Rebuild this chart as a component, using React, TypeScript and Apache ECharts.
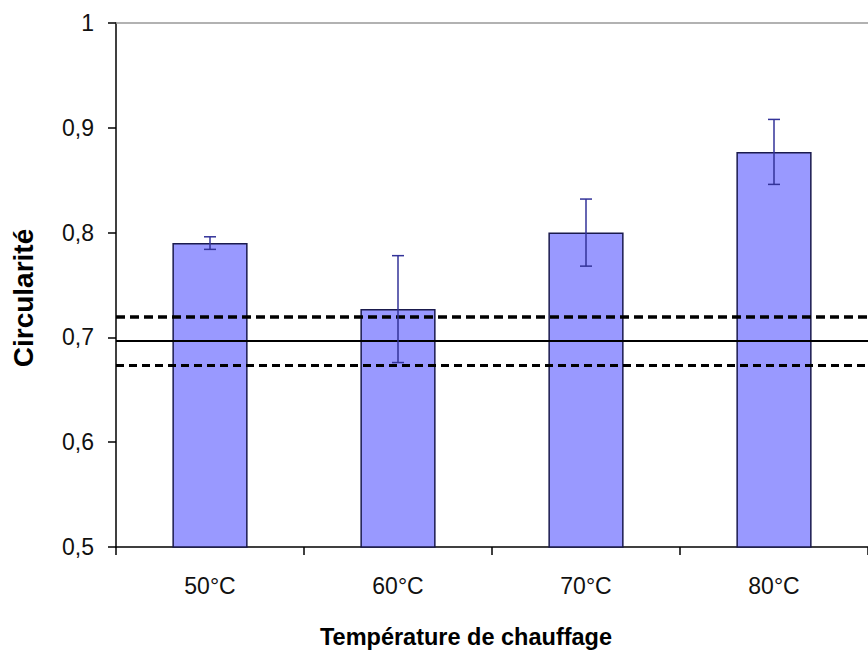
import React, { useEffect, useRef } from "react";
import * as echarts from "echarts";

const categories = ["50°C", "60°C", "70°C", "80°C"];
const values = [0.79, 0.727, 0.8, 0.877];
const errors = [0.006, 0.051, 0.032, 0.031];
const refLines = { upper: 0.7195, mean: 0.6965, lower: 0.673 };
const yTicks = { min: 0.5, max: 1, interval: 0.1 };

export default function App() {
  const ref = useRef<HTMLDivElement>(null);
  useEffect(() => {
    if (!ref.current) return;
    const chart = echarts.init(ref.current, null, { renderer: "svg" });
    const font = "'Liberation Sans', Arial, sans-serif";
    chart.setOption({
      animation: false,
      grid: { left: 116, right: 0, top: 23, bottom: 106, outerBoundsMode: "none", containLabel: false },
      xAxis: [
        {
          type: "category",
          data: categories,
          axisLine: { lineStyle: { color: "#000", width: 1.5 } },
          axisTick: { show: true, length: 8, lineStyle: { color: "#000", width: 1.5 } },
          axisLabel: { color: "#111", fontFamily: font, fontSize: 23, margin: 27 },
          name: "Température de chauffage",
          nameLocation: "middle",
          nameGap: 78,
          nameTextStyle: {
            color: "#000",
            fontFamily: font,
            fontSize: 23.5,
            fontWeight: "bold",
            padding: [0, 52, 0, 0],
          },
        },
        {
          type: "category",
          position: "top",
          data: categories,
          axisLine: { lineStyle: { color: "#999", width: 1.5 } },
          axisTick: { show: false },
          axisLabel: { show: false },
        },
      ],
      yAxis: {
        type: "value",
        min: yTicks.min,
        max: yTicks.max,
        interval: yTicks.interval,
        axisLine: { show: true, lineStyle: { color: "#000", width: 1.5 } },
        axisTick: { show: true, length: 8, lineStyle: { color: "#000", width: 1.5 } },
        splitLine: { show: false },
        axisLabel: {
          color: "#111",
          fontFamily: font,
          fontSize: 23,
          margin: 22,
          formatter: (v: number) => (Math.round(v * 10) / 10).toString().replace(".", ","),
        },
        name: "Circularité",
        nameLocation: "middle",
        nameGap: 79,
        nameTextStyle: {
          color: "#000",
          fontFamily: font,
          fontSize: 28,
          fontWeight: "bold",
          padding: [0, 26, 0, 0],
        },
      },
      series: [
        {
          type: "bar",
          data: values,
          barWidth: "40%",
          itemStyle: { color: "#9999ff", borderColor: "#1a1a4d", borderWidth: 1.5 },
          markLine: {
            silent: true,
            symbol: "none",
            precision: 4,
            label: { show: false },
            data: [
              { yAxis: refLines.upper, lineStyle: { color: "#000", width: 3.5, type: [9, 5] } },
              { yAxis: refLines.mean, lineStyle: { color: "#000", width: 2, type: "solid" } },
              { yAxis: refLines.lower, lineStyle: { color: "#000", width: 3, type: [8, 5] } },
            ],
          },
        },
        {
          type: "custom",
          data: values.map((v, i) => [i, v - errors[i], v + errors[i]]),
          z: 5,
          renderItem: (params: any, api: any) => {
            const x = api.value(0);
            const lo = api.coord([x, api.value(1)]);
            const hi = api.coord([x, api.value(2)]);
            const hw = 6;
            const style = { stroke: "#333399", lineWidth: 1.5 };
            return {
              type: "group",
              children: [
                { type: "line", shape: { x1: lo[0], y1: lo[1], x2: hi[0], y2: hi[1] }, style },
                { type: "line", shape: { x1: lo[0] - hw, y1: lo[1], x2: lo[0] + hw, y2: lo[1] }, style },
                { type: "line", shape: { x1: hi[0] - hw, y1: hi[1], x2: hi[0] + hw, y2: hi[1] }, style },
              ],
            };
          },
        },
      ],
    });
    return () => chart.dispose();
  }, []);
  return <div ref={ref} style={{ width: 868, height: 653, position: "absolute", left: 0, top: 0 }} />;
}
